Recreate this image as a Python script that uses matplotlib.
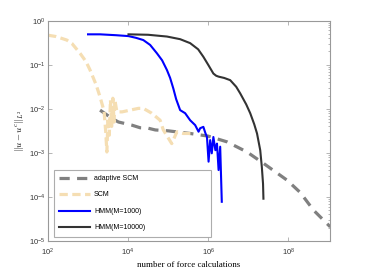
import numpy as np
import matplotlib
matplotlib.use("Agg")
import matplotlib.pyplot as plt

plt.rcParams['mathtext.fontset'] = 'custom'
plt.rcParams['mathtext.rm'] = 'Liberation Sans'
plt.rcParams['mathtext.it'] = 'Liberation Sans:italic'
plt.rcParams['mathtext.bf'] = 'Liberation Sans:bold'
plt.rcParams['font.family'] = 'Liberation Sans'

# values given as log10 exponents
# adaptive SCM
ascm_lx = [3.30, 3.60, 3.76, 4.09, 4.30, 4.50, 4.68, 5.00, 5.55, 6.00, 6.47, 6.97, 7.40, 7.97, 8.30, 8.63, 9.05]
ascm_ly = [-2.03, -2.22, -2.30, -2.37, -2.43, -2.44, -2.48, -2.50, -2.56, -2.62, -2.75, -2.98, -3.25, -3.62, -3.90, -4.30, -4.68]

# SCM
scm_lx = [2.00, 2.20, 2.47, 2.60, 2.80, 2.95, 3.05, 3.20, 3.30, 3.40, 3.44, 3.47, 3.50, 3.53, 3.56, 3.59,
          3.62, 3.65, 3.67, 3.72, 3.85, 4.00, 4.26, 4.38, 4.59, 4.80, 4.88, 5.09, 5.22, 5.38, 5.63]
scm_ly = [-0.33, -0.36, -0.44, -0.52, -0.74, -0.93, -1.12, -1.45, -1.73, -2.05, -2.50, -2.98, -2.20, -2.60, -1.80, -2.40,
          -1.76, -2.30, -1.80, -2.07, -2.07, -2.04, -1.99, -1.99, -2.10, -2.26, -2.48, -2.79, -2.52, -2.56, -2.56]

# HMM(M=1000)
h1_lx = [3.00, 3.30, 3.70, 4.01, 4.20, 4.38, 4.55, 4.72, 4.85, 4.97, 5.05, 5.13, 5.20, 5.30, 5.425, 5.55,
         5.675, 5.76, 5.80, 5.88, 5.93, 5.97, 6.01, 6.05, 6.09, 6.13, 6.18, 6.22, 6.26, 6.30, 6.34]
h1_ly = [-0.31, -0.31, -0.33, -0.35, -0.39, -0.44, -0.55, -0.74, -0.90, -1.12, -1.30, -1.54, -1.78, -2.03, -2.10, -2.26,
         -2.37, -2.52, -2.44, -2.41, -2.55, -2.64, -3.20, -2.71, -3.01, -2.64, -2.94, -2.79, -3.39, -2.86, -4.11]

# HMM(M=10000)
h2_lx = [4.01, 4.50, 4.97, 5.30, 5.55, 5.75, 5.88, 6.00, 6.13, 6.20, 6.26, 6.40, 6.55, 6.70, 6.80, 6.95,
         7.05, 7.15, 7.22, 7.30, 7.34, 7.37, 7.38]
h2_ly = [-0.31, -0.32, -0.36, -0.42, -0.51, -0.65, -0.82, -1.00, -1.20, -1.25, -1.27, -1.30, -1.35, -1.50, -1.65, -1.90,
         -2.10, -2.35, -2.56, -2.94, -3.32, -3.70, -4.04]

to_val = lambda a: np.power(10.0, np.asarray(a))

fig = plt.figure(figsize=(3.65, 2.72), dpi=100)
ax = fig.add_axes([0.1315, 0.114, 0.7725, 0.81])

ax.loglog(to_val(ascm_lx), to_val(ascm_ly), color='#808080', lw=2.3, dashes=(3.2, 2.3),
          label='adaptive SCM')
ax.loglog(to_val(scm_lx), to_val(scm_ly), color='#F5DEB3', lw=2.3, dashes=(2.6, 1.4), label='SCM')
ax.loglog(to_val(h1_lx), to_val(h1_ly), color='#0000FF', lw=1.5, label='HMM(M=1000)')
ax.loglog(to_val(h2_lx), to_val(h2_ly), color='#333333', lw=1.5, label='HMM(M=10000)')

ax.set_xlim(1e2, 1.1e9)
ax.set_ylim(1e-5, 1e0)
ax.set_xticks([1e2, 1e4, 1e6, 1e8])
ax.set_yticks([1e0, 1e-1, 1e-2, 1e-3, 1e-4, 1e-5])
ax.xaxis.set_minor_locator(matplotlib.ticker.NullLocator())
ax.tick_params(which='both', direction='in', top=True, right=True, labelsize=5.5,
               color='#999999', length=3, width=0.5, labelcolor='#333333')
ax.tick_params(axis='x', pad=4)
ax.tick_params(axis='y', pad=2)
ax.tick_params(which='minor', length=1.5, left=False)
for s in ax.spines.values():
    s.set_color('#999999')
    s.set_linewidth(0.8)

ax.set_xlabel('number of force calculations', family='Liberation Serif', fontsize=6.4, labelpad=2)
ylab = ax.set_ylabel(r'$\|u-u^c\|_{L^2}$', fontsize=6.5, labelpad=2)
ylab.set_math_fontfamily('cm')

leg = ax.legend(loc='lower left', bbox_to_anchor=(0.022, 0.0195, 0.555, 0.318), mode='expand',
                fontsize=5, frameon=True, fancybox=False, edgecolor='#999999',
                handlelength=4.4, labelspacing=1.37, borderpad=0.75, handletextpad=0.6,
                borderaxespad=0)
leg.get_frame().set_linewidth(0.8)

fig.savefig('out.png', dpi=100)
